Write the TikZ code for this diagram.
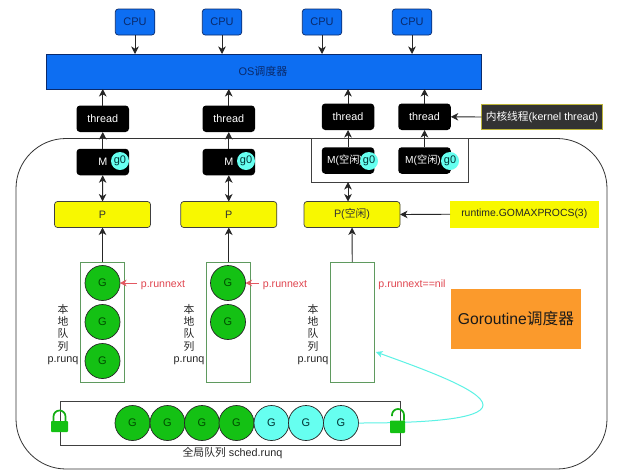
\documentclass[tikz,border=0pt]{standalone}
\usepackage{fontspec}
\setmainfont{Liberation Sans}
\newfontfamily\cjk{Noto Sans CJK SC}
\newcommand{\zh}[1]{{\cjk #1}}
\usetikzlibrary{arrows.meta}
\definecolor{cpublue}{HTML}{0D6EF2}
\definecolor{navy}{HTML}{0A2A6B}
\definecolor{ggreen}{HTML}{14C114}
\definecolor{gcyan}{HTML}{66FFF0}
\definecolor{qgreen}{HTML}{5F9A5F}
\definecolor{pyellow}{HTML}{F8F800}
\definecolor{rtext}{HTML}{E0454F}
\definecolor{orangebox}{HTML}{FB9A2C}
\tikzset{
  x=1pt,y=-1pt,
  cpubox/.style={draw=navy,line width=0.7pt,fill=cpublue,rounded corners=3pt,minimum width=39.5pt,minimum height=26pt,inner sep=0pt,outer sep=0pt,text=navy,font=\fontsize{11}{13}\selectfont},
  blk/.style={fill=black,rounded corners=3.5pt,minimum width=52.5pt,minimum height=26.5pt,inner sep=0pt,outer sep=0pt,text=white,font=\fontsize{10.8}{13}\selectfont},
  pbox/.style={draw=black!75,line width=0.7pt,fill=pyellow,rounded corners=3pt,minimum width=96pt,minimum height=26pt,inner sep=0pt,outer sep=0pt,text=black!80,font=\fontsize{10.8}{13}\selectfont},
  gzero/.style={circle,fill=gcyan,minimum size=18pt,inner sep=0pt,text=black!60!teal,font=\fontsize{11}{13}\selectfont},
  queue/.style={draw=qgreen,line width=0.9pt,minimum width=44pt,minimum height=120pt,inner sep=0pt,outer sep=0pt},
  gnode/.style={circle,draw=black!85,line width=0.7pt,fill=ggreen,minimum size=35pt,inner sep=0pt,outer sep=0pt,text=black!70!green,font=\fontsize{11}{13}\selectfont},
  cnode/.style={gnode,fill=gcyan,text=black!60!teal},
  lbl/.style={inner sep=0pt,outer sep=0pt,font=\fontsize{10.8}{12.4}\selectfont,align=center,text=black!85},
  redlbl/.style={inner sep=0pt,outer sep=0pt,text=rtext,font=\fontsize{10.6}{13}\selectfont},
  arr/.style={line width=0.9pt,draw=black!85,-{Stealth[length=7.5pt,width=7.5pt,inset=2.2pt]}},
  barr/.style={line width=0.9pt,draw=black!85,{Stealth[length=7.5pt,width=7.5pt,inset=2.2pt]}-{Stealth[length=7.5pt,width=7.5pt,inset=2.2pt]}},
  redarr/.style={line width=0.9pt,draw=rtext!90,-{Stealth[length=6.5pt,width=6.5pt,inset=1.8pt]}},
  lockbody/.style={fill=ggreen,draw=none},
  lockarc/.style={draw=ggreen!90!black,line width=1.7pt},
}
\begin{document}
\begin{tikzpicture}
\useasboundingbox (0,0) rectangle (621,472);
\fill[white] (0,0) rectangle (621,472);
% outer scheduler frame
\draw[black!80,line width=0.8pt,rounded corners=50pt] (16,138.5) rectangle (607,469);
% CPUs and OS
\node[cpubox] (c1) at (135,22) {CPU};
\node[cpubox] (c2) at (222,22) {CPU};
\node[cpubox] (c3) at (322,22) {CPU};
\node[cpubox] (c4) at (412,22) {CPU};
\node[draw=navy,line width=0.7pt,fill=cpublue,minimum width=435pt,minimum height=35pt,inner sep=0pt,outer sep=0pt] (os) at (263.5,71.5) {};
\node[text=navy,inner sep=0pt,font=\fontsize{11}{13}\selectfont] (ostext) at (263,71.5) {OS\zh{调度器}};
% threads
\node[blk] (t1) at (102.75,118.75) {thread};
\node[blk] (t2) at (228.75,118.75) {thread};
\node[blk] (t3) at (348,116.75) {thread};
\node[blk] (t4) at (424.5,116.75) {thread};
% idle group
\node[draw=black!75,line width=0.8pt,fill=white,minimum width=156.5pt,minimum height=44pt,inner sep=0pt,outer sep=0pt] (idle) at (389.75,160) {};
% Ms
\node[blk] (m1) at (102.75,162) {M};
\node[blk] (m2) at (228.75,162) {M};
\node[blk] (m3) at (348,160.5) {\hspace*{-6pt}\fontsize{10.2}{13}\selectfont M(\zh{空闲})};
\node[blk] (m4) at (424.5,160.5) {\hspace*{-3pt}\fontsize{10.2}{13}\selectfont M(\zh{空闲})};
\node[gzero] (g1) at (120,161) {g0};
\node[gzero] (g2) at (246,161) {g0};
\node[gzero] (g3) at (369,161) {g0};
\node[gzero] (g4) at (450,161) {g0};
% Ps
\node[pbox] (p1) at (102.5,214.5) {P};
\node[pbox] (p2) at (228.75,214.5) {P};
\node[pbox] (p3) at (352,214.5) {P(\zh{空闲})};
% side labels
\node[fill=black!80,draw=yellow!70!black,line width=0.7pt,minimum width=121pt,minimum height=25pt,inner sep=0pt,outer sep=0pt,text=white,font=\fontsize{10.7}{13}\selectfont] (kt) at (542,117) {\zh{内核线程}(kernel thread)};
\node[fill=pyellow,minimum width=148.5pt,minimum height=26.5pt,inner sep=0pt,outer sep=0pt,text=black!85,font=\fontsize{10.4}{13}\selectfont] (gm) at (524.25,214.25) {runtime.GOMAXPROCS(3)};
% local queues
\node[queue] (q1) at (102.5,322) {};
\node[queue] (q2) at (228.75,322) {};
\node[queue] (q3) at (352.25,322) {};
\node[gnode] (a1) at (102.5,283) {G};
\node[gnode] (a2) at (102.5,322) {G};
\node[gnode] (a3) at (102.5,361) {G};
\node[gnode] (b1) at (228,283) {G};
\node[gnode] (b2) at (228,322) {G};
\node[lbl] (l1) at (63,334.5) {\zh{本}\\\zh{地}\\\zh{队}\\\zh{列}\\p.runq};
\node[lbl] (l2) at (189,334.5) {\zh{本}\\\zh{地}\\\zh{队}\\\zh{列}\\p.runq};
\node[lbl] (l3) at (313,334.5) {\zh{本}\\\zh{地}\\\zh{队}\\\zh{列}\\p.runq};
\node[redlbl] (r1) at (163,285) {p.runnext};
\node[redlbl] (r2) at (285,285) {p.runnext};
\node[redlbl] (r3) at (412,285) {p.runnext==nil};
% goroutine label
\node[fill=orangebox,minimum width=130pt,minimum height=60.5pt,inner sep=0pt,outer sep=0pt,text=black!90,font=\fontsize{15.7}{18}\selectfont] (gr) at (516,318.75) {Goroutine\zh{调度器}};
% global queue
\node[draw=black!75,line width=0.8pt,minimum width=340pt,minimum height=44pt,inner sep=0pt,outer sep=0pt] (gq) at (230.5,423) {};
\node[gnode] (h1) at (132.5,423) {G};
\node[gnode] (h2) at (167.5,423) {G};
\node[gnode] (h3) at (202,423) {G};
\node[gnode] (h4) at (236.5,423) {G};
\node[cnode] (h5) at (271.5,423) {G};
\node[cnode] (h6) at (306,423) {G};
\node[cnode] (h7) at (341,423) {G};
\node[lbl] (gl) at (232.5,453) {\zh{全局队列} sched.runq};
% connectors
\draw[arr] (c1) -- (c1 |- os.north);
\draw[arr] (c2) -- (c2 |- os.north);
\draw[arr] (c3) -- (c3 |- os.north);
\draw[arr] (c4) -- (c4 |- os.north);
\draw[arr] (t1.north) -- (t1 |- os.south);
\draw[arr] (t2.north) -- (t2 |- os.south);
\draw[arr] (t3.north) -- (t3 |- os.south);
\draw[arr] (t4.north) -- (t4 |- os.south);
\draw[arr] (m1.north) -- (t1.south);
\draw[arr] (m2.north) -- (t2.south);
\draw[arr] (m3.north) -- (t3.south);
\draw[arr] (m4.north) -- (t4.south);
\draw[barr] (m1.south) -- (p1.north);
\draw[barr] (m2.south) -- (p2.north);
\draw[barr] (idle.south -| m3) -- (p3.north -| m3);
\draw[arr] (q1.north) -- (p1.south);
\draw[arr] (q2.north) -- (p2.south);
\draw[arr] (q3.north) -- (p3.south);
\draw[arr] (kt.west) -- (t4.east);
\draw[arr] (gm.west) -- (p3.east);
\coordinate (r1e) at (137,283);
\coordinate (r2e) at (259,283);
\draw[redarr] (r1e) -- (a1.east);
\draw[redarr] (r2e) -- (b1.east);
% cyan curve
\coordinate (qin) at (376,352);
\draw[gcyan!90!teal,line width=1pt,-{Stealth[length=6.5pt,width=6.5pt,inset=1.8pt]}] (h7.east) .. controls (420,423) and (483,420) .. (483,405) .. controls (483,390) and (420,368) .. (qin);
% locks
\fill[lockbody,rounded corners=0.8pt] (51,421) rectangle (68,432);
\draw[lockarc] (53.5,421) -- (53.5,416.5) arc[start angle=180,end angle=360,radius=6] -- (65.5,421);
\fill[lockbody,rounded corners=0.8pt] (390,420.5) rectangle (405,433);
\draw[lockarc] (392,416) -- (392,415) arc[start angle=180,end angle=360,radius=6] -- (404,420.5);
\end{tikzpicture}
\end{document}
